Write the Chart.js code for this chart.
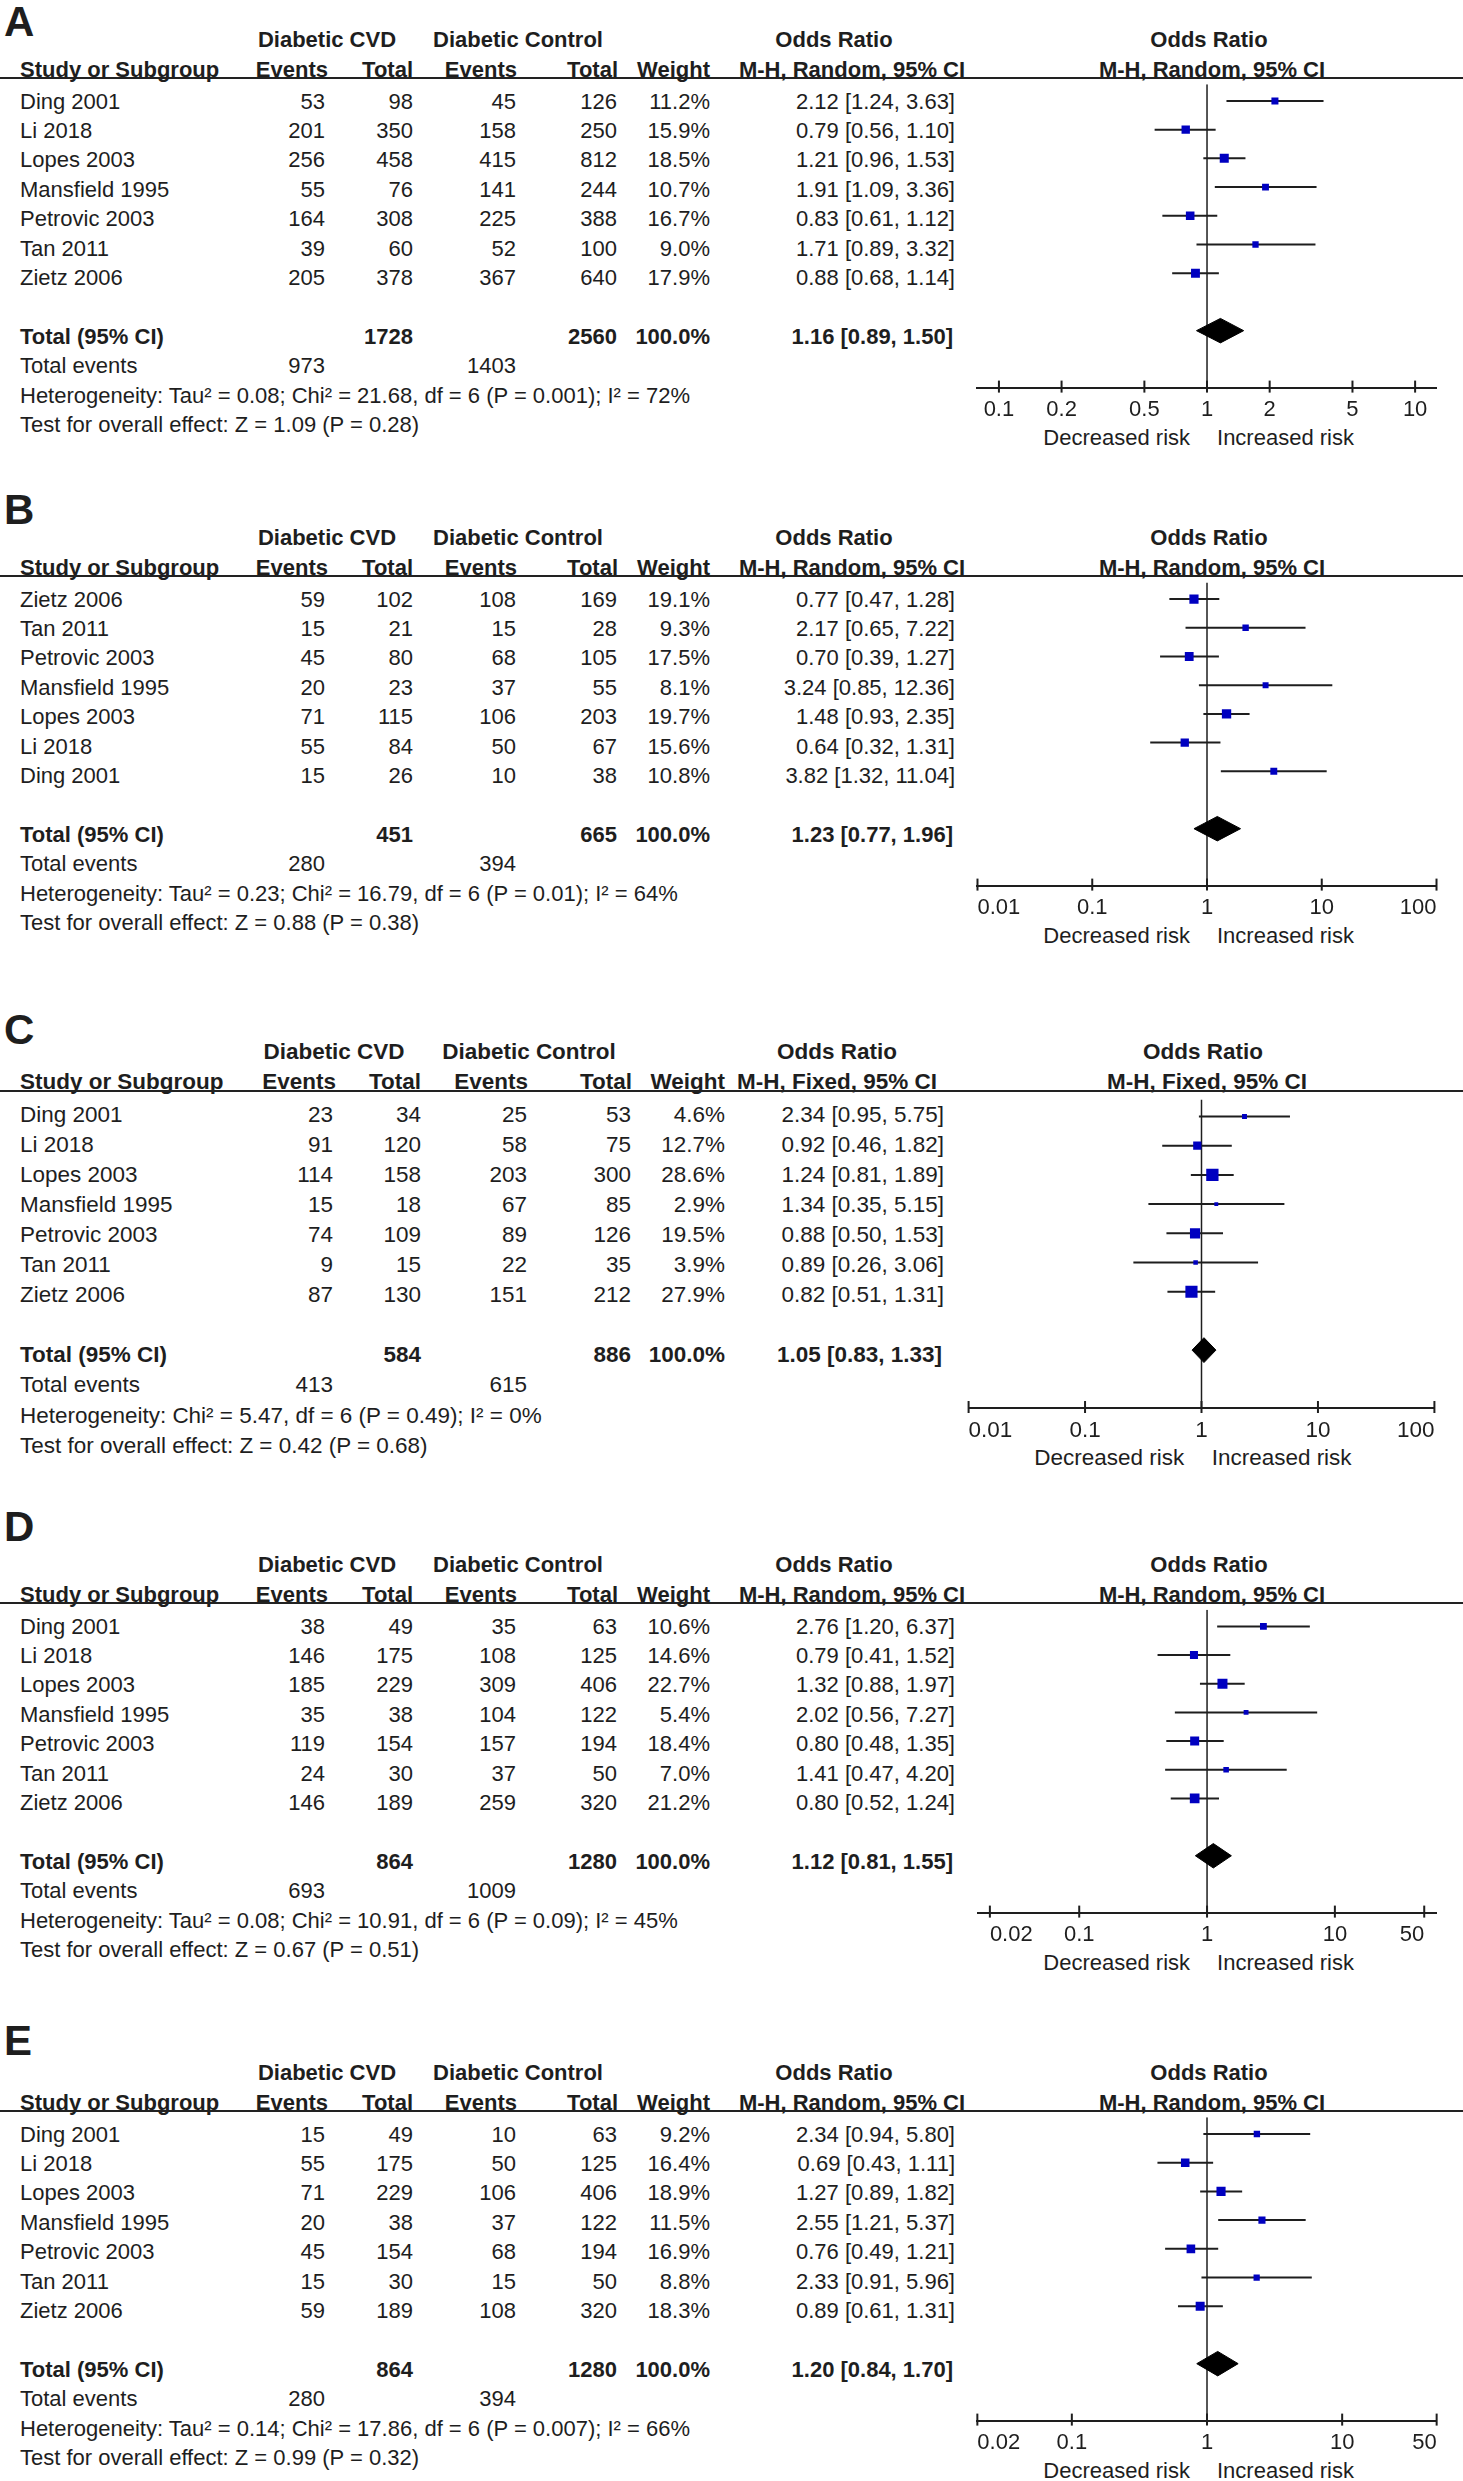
<!DOCTYPE html>
<html>
<head>
<meta charset="utf-8">
<script src="https://cdn.jsdelivr.net/npm/chart.js@4.4.0/dist/chart.umd.min.js"></script>
<style>
body { margin: 0; background: #fff; }
#page { position: relative; width: 1463px; height: 2481px; overflow: hidden; font-family: "Liberation Sans", Arial, sans-serif; color: #1e1e1e; }
.t { position: absolute; white-space: nowrap; line-height: 1; }
.b { font-weight: bold; }
.hline { position: absolute; left: 0; width: 1463px; height: 2px; background: #222; }
.plot { position: absolute; }
</style>
</head>
<body>
<div id="page"></div>
<script>
// ---- A ----
var studiesA = ['Ding 2001', 'Li 2018', 'Lopes 2003', 'Mansfield 1995', 'Petrovic 2003', 'Tan 2011', 'Zietz 2006'];
var cvdEventsA = [53, 201, 256, 55, 164, 39, 205];
var cvdTotalA = [98, 350, 458, 76, 308, 60, 378];
var ctlEventsA = [45, 158, 415, 141, 225, 52, 367];
var ctlTotalA = [126, 250, 812, 244, 388, 100, 640];
var weightA = [11.2, 15.9, 18.5, 10.7, 16.7, 9.0, 17.9];
var orA = [2.12, 0.79, 1.21, 1.91, 0.83, 1.71, 0.88];
var loA = [1.24, 0.56, 0.96, 1.09, 0.61, 0.89, 0.68];
var hiA = [3.63, 1.10, 1.53, 3.36, 1.12, 3.32, 1.14];
var pooledA = [1.16, 0.89, 1.50];
var sumTotalA = [1728, 2560];
var sumEventsA = [973, 1403];
var hetA = 'Heterogeneity: Tau² = 0.08; Chi² = 21.68, df = 6 (P = 0.001); I² = 72%';
var testA = 'Test for overall effect: Z = 1.09 (P = 0.28)';
var ticksA = [0.1, 0.2, 0.5, 1, 2, 5, 10];
var rangeA = [0.0787, 12.7];

// ---- B ----
var studiesB = ['Zietz 2006', 'Tan 2011', 'Petrovic 2003', 'Mansfield 1995', 'Lopes 2003', 'Li 2018', 'Ding 2001'];
var cvdEventsB = [59, 15, 45, 20, 71, 55, 15];
var cvdTotalB = [102, 21, 80, 23, 115, 84, 26];
var ctlEventsB = [108, 15, 68, 37, 106, 50, 10];
var ctlTotalB = [169, 28, 105, 55, 203, 67, 38];
var weightB = [19.1, 9.3, 17.5, 8.1, 19.7, 15.6, 10.8];
var orB = [0.77, 2.17, 0.70, 3.24, 1.48, 0.64, 3.82];
var loB = [0.47, 0.65, 0.39, 0.85, 0.93, 0.32, 1.32];
var hiB = [1.28, 7.22, 1.27, 12.36, 2.35, 1.31, 11.04];
var pooledB = [1.23, 0.77, 1.96];
var sumTotalB = [451, 665];
var sumEventsB = [280, 394];
var hetB = 'Heterogeneity: Tau² = 0.23; Chi² = 16.79, df = 6 (P = 0.01); I² = 64%';
var testB = 'Test for overall effect: Z = 0.88 (P = 0.38)';
var ticksB = [0.01, 0.1, 1, 10, 100];
var rangeB = [0.01, 100];

// ---- C ----
var studiesC = ['Ding 2001', 'Li 2018', 'Lopes 2003', 'Mansfield 1995', 'Petrovic 2003', 'Tan 2011', 'Zietz 2006'];
var cvdEventsC = [23, 91, 114, 15, 74, 9, 87];
var cvdTotalC = [34, 120, 158, 18, 109, 15, 130];
var ctlEventsC = [25, 58, 203, 67, 89, 22, 151];
var ctlTotalC = [53, 75, 300, 85, 126, 35, 212];
var weightC = [4.6, 12.7, 28.6, 2.9, 19.5, 3.9, 27.9];
var orC = [2.34, 0.92, 1.24, 1.34, 0.88, 0.89, 0.82];
var loC = [0.95, 0.46, 0.81, 0.35, 0.50, 0.26, 0.51];
var hiC = [5.75, 1.82, 1.89, 5.15, 1.53, 3.06, 1.31];
var pooledC = [1.05, 0.83, 1.33];
var sumTotalC = [584, 886];
var sumEventsC = [413, 615];
var hetC = 'Heterogeneity: Chi² = 5.47, df = 6 (P = 0.49); I² = 0%';
var testC = 'Test for overall effect: Z = 0.42 (P = 0.68)';
var ticksC = [0.01, 0.1, 1, 10, 100];
var rangeC = [0.01, 100];

// ---- D ----
var studiesD = ['Ding 2001', 'Li 2018', 'Lopes 2003', 'Mansfield 1995', 'Petrovic 2003', 'Tan 2011', 'Zietz 2006'];
var cvdEventsD = [38, 146, 185, 35, 119, 24, 146];
var cvdTotalD = [49, 175, 229, 38, 154, 30, 189];
var ctlEventsD = [35, 108, 309, 104, 157, 37, 259];
var ctlTotalD = [63, 125, 406, 122, 194, 50, 320];
var weightD = [10.6, 14.6, 22.7, 5.4, 18.4, 7.0, 21.2];
var orD = [2.76, 0.79, 1.32, 2.02, 0.80, 1.41, 0.80];
var loD = [1.20, 0.41, 0.88, 0.56, 0.48, 0.47, 0.52];
var hiD = [6.37, 1.52, 1.97, 7.27, 1.35, 4.20, 1.24];
var pooledD = [1.12, 0.81, 1.55];
var sumTotalD = [864, 1280];
var sumEventsD = [693, 1009];
var hetD = 'Heterogeneity: Tau² = 0.08; Chi² = 10.91, df = 6 (P = 0.09); I² = 45%';
var testD = 'Test for overall effect: Z = 0.67 (P = 0.51)';
var ticksD = [0.02, 0.1, 1, 10, 50];
var rangeD = [0.0161, 62];

// ---- E ----
var studiesE = ['Ding 2001', 'Li 2018', 'Lopes 2003', 'Mansfield 1995', 'Petrovic 2003', 'Tan 2011', 'Zietz 2006'];
var cvdEventsE = [15, 55, 71, 20, 45, 15, 59];
var cvdTotalE = [49, 175, 229, 38, 154, 30, 189];
var ctlEventsE = [10, 50, 106, 37, 68, 15, 108];
var ctlTotalE = [63, 125, 406, 122, 194, 50, 320];
var weightE = [9.2, 16.4, 18.9, 11.5, 16.9, 8.8, 18.3];
var orE = [2.34, 0.69, 1.27, 2.55, 0.76, 2.33, 0.89];
var loE = [0.94, 0.43, 0.89, 1.21, 0.49, 0.91, 0.61];
var hiE = [5.80, 1.11, 1.82, 5.37, 1.21, 5.96, 1.31];
var pooledE = [1.20, 0.84, 1.70];
var sumTotalE = [864, 1280];
var sumEventsE = [280, 394];
var hetE = 'Heterogeneity: Tau² = 0.14; Chi² = 17.86, df = 6 (P = 0.007); I² = 66%';
var testE = 'Test for overall effect: Z = 0.99 (P = 0.32)';
var ticksE = [0.02, 0.1, 1, 10, 50];
var rangeE = [0.02, 50];

var FONT = '"Liberation Sans", Arial, sans-serif';
var INK = '#1e1e1e';
Chart.defaults.font.family = FONT;
Chart.defaults.color = INK;

// column layout (px)
var colsStd = { study: 20, ev1: 325, tot1: 413, ev2: 516, tot2: 617, wt: 710, grp1: 327, grp2: 518,
    orHead: 834, orSub: 852, orRight: 955, plotHead: 1209, plotSub: 1212, axisL: 974, axisR: 1440 };
var colsC = { study: 20, ev1: 333, tot1: 421, ev2: 527, tot2: 631, wt: 725, grp1: 334, grp2: 529,
    orHead: 837, orSub: 837, orRight: 944, plotHead: 1203, plotSub: 1207, axisL: 963, axisR: 1440 };

var page = document.getElementById('page');

function txt(str, x, y, align, bold, size) {
    var d = document.createElement('div');
    d.className = 't' + (bold ? ' b' : '');
    d.textContent = str;
    d.style.fontSize = size + 'px';
    d.style.left = x + 'px';
    d.style.top = (y - 0.4885 * size) + 'px';
    if (align === 'right') d.style.transform = 'translateX(-100%)';
    if (align === 'center') d.style.transform = 'translateX(-50%)';
    page.appendChild(d);
    return d;
}

function ciText(o, l, h) {
    return o.toFixed(2) + ' [' + l.toFixed(2) + ', ' + h.toFixed(2) + ']';
}

// tick marks that cross the axis line
var crossTicks = {
    id: 'crossTicks',
    afterDraw: function (chart) {
        var sc = chart.scales.x, ctx = chart.ctx, y = chart.chartArea.bottom;
        ctx.save();
        ctx.strokeStyle = INK;
        ctx.lineWidth = 2;
        sc.ticks.forEach(function (t) {
            var px = sc.getPixelForValue(t.value);
            ctx.beginPath();
            ctx.moveTo(px, y - 7);
            ctx.lineTo(px, y + 5);
            ctx.stroke();
        });
        ctx.restore();
    }
};

function drawPanel(p) {
    var s = p.scale, L = p.lineY, c = p.cols, fs = 22 * s;
    var X = L + 310 * s;
    var rowY = function (i) { return L + s * (23.5 + 29.35 * i); };
    var n = p.studies.length;

    txt(p.letter, 4, p.letterTop + 15, 'left', true, 42);

    // headers
    txt('Diabetic CVD', c.grp1, L - 38 * s, 'center', true, fs);
    txt('Diabetic Control', c.grp2, L - 38 * s, 'center', true, fs);
    txt('Odds Ratio', c.orHead, L - 38 * s, 'center', true, fs);
    txt('Odds Ratio', c.plotHead, L - 38 * s, 'center', true, fs);
    var h2 = L - 8.5 * s;
    txt('Study or Subgroup', c.study, h2, 'left', true, fs);
    txt('Events', c.ev1 + 3, h2, 'right', true, fs);
    txt('Total', c.tot1, h2, 'right', true, fs);
    txt('Events', c.ev2 + 1, h2, 'right', true, fs);
    txt('Total', c.tot2 + 1, h2, 'right', true, fs);
    txt('Weight', c.wt, h2, 'right', true, fs);
    txt('M-H, ' + p.model + ', 95% CI', c.orSub, h2, 'center', true, fs);
    txt('M-H, ' + p.model + ', 95% CI', c.plotSub, h2, 'center', true, fs);
    var hl = document.createElement('div');
    hl.className = 'hline';
    hl.style.top = (L - 1) + 'px';
    page.appendChild(hl);

    // study rows
    for (var i = 0; i < n; i++) {
        var y = rowY(i);
        txt(p.studies[i], c.study, y, 'left', false, fs);
        txt(String(p.cvdEvents[i]), c.ev1, y, 'right', false, fs);
        txt(String(p.cvdTotal[i]), c.tot1, y, 'right', false, fs);
        txt(String(p.ctlEvents[i]), c.ev2, y, 'right', false, fs);
        txt(String(p.ctlTotal[i]), c.tot2, y, 'right', false, fs);
        txt(p.weight[i].toFixed(1) + '%', c.wt, y, 'right', false, fs);
        txt(ciText(p.or[i], p.lo[i], p.hi[i]), c.orRight, y, 'right', false, fs);
    }

    // totals
    var ty = rowY(n + 1);
    txt('Total (95% CI)', c.study, ty, 'left', true, fs);
    txt(String(p.sumTotal[0]), c.tot1, ty, 'right', true, fs);
    txt(String(p.sumTotal[1]), c.tot2, ty, 'right', true, fs);
    txt('100.0%', c.wt, ty, 'right', true, fs);
    txt(ciText(p.pooled[0], p.pooled[1], p.pooled[2]), c.orRight - 2, ty, 'right', true, fs);
    txt('Total events', c.study, L + 288 * s, 'left', false, fs);
    txt(String(p.sumEvents[0]), c.ev1, L + 288 * s, 'right', false, fs);
    txt(String(p.sumEvents[1]), c.ev2, L + 288 * s, 'right', false, fs);
    txt(p.het, c.study, L + 318 * s, 'left', false, fs);
    txt(p.test, c.study, L + 347 * s, 'left', false, fs);

    // forest plot
    var yTop = -17 / 29.35, yBottom = 293 / 29.35;
    var pad = 3;
    var wrap = document.createElement('div');
    wrap.className = 'plot';
    wrap.style.left = (c.axisL - pad) + 'px';
    wrap.style.top = L + 'px';
    var cv = document.createElement('canvas');
    cv.width = c.axisR - c.axisL + 2 * pad;
    cv.height = Math.round((X - L) + 9 + 1.2 * fs);
    wrap.appendChild(cv);
    page.appendChild(wrap);

    var datasets = [];
    datasets.push({
        data: p.or.map(function (v, i) { return { x: v, y: i }; }),
        showLine: false,
        pointStyle: 'rect',
        pointRadius: function (ctx) { return p.boxK * Math.sqrt(p.weight[ctx.dataIndex]) / Math.SQRT2; },
        pointBackgroundColor: '#0000c0',
        pointBorderColor: '#0000c0',
        pointBorderWidth: 0,
        order: 0
    });
    for (var j = 0; j < n; j++) {
        datasets.push({
            data: [{ x: p.lo[j], y: j }, { x: p.hi[j], y: j }],
            borderColor: INK, borderWidth: 2, pointRadius: 0, order: 1
        });
    }
    var dh = 0.426, k = n + 1;
    datasets.push({
        data: [{ x: p.pooled[1], y: k }, { x: p.pooled[0], y: k - dh }, { x: p.pooled[2], y: k },
            { x: p.pooled[0], y: k + dh }, { x: p.pooled[1], y: k }],
        borderColor: '#000', backgroundColor: '#000', borderWidth: 1, pointRadius: 0,
        fill: 'shape', tension: 0, order: 1
    });
    datasets.push({
        data: [{ x: 1, y: yTop }, { x: 1, y: yBottom }],
        borderColor: INK, borderWidth: 1.5, pointRadius: 0, order: 2
    });

    var chart = new Chart(cv.getContext('2d'), {
        type: 'line',
        data: { datasets: datasets },
        options: {
            responsive: false,
            animation: false,
            devicePixelRatio: 1,
            layout: { padding: { left: pad, right: pad, top: 0, bottom: 0 } },
            plugins: { legend: { display: false }, tooltip: { enabled: false } },
            scales: {
                x: {
                    type: 'logarithmic',
                    min: p.range[0],
                    max: p.range[1],
                    afterBuildTicks: function (sc) {
                        sc.ticks = p.ticks.map(function (v) { return { value: v }; });
                    },
                    ticks: {
                        align: p.align, padding: 0, autoSkip: false, maxRotation: 0,
                        color: INK, font: { size: fs },
                        callback: function (v) { return String(v); }
                    },
                    grid: { display: true, drawOnChartArea: false, drawTicks: true, tickLength: 9, tickColor: 'rgba(0,0,0,0)' },
                    border: { display: true, color: INK, width: 2 }
                },
                y: { type: 'linear', display: false, reverse: true, min: yTop, max: yBottom }
            }
        },
        plugins: [crossTicks]
    });

    var x1 = c.axisL - pad + chart.scales.x.getPixelForValue(1);
    txt('Decreased risk', x1 - 17 * s, X + 49.5 * s, 'right', false, fs);
    txt('Increased risk', x1 + 10 * s, X + 49.5 * s, 'left', false, fs);
}

var panels = [
    { letter: 'A', letterTop: 7, lineY: 78, scale: 1, cols: colsStd, model: 'Random', align: 'center', boxK: 2.1,
      studies: studiesA, cvdEvents: cvdEventsA, cvdTotal: cvdTotalA, ctlEvents: ctlEventsA, ctlTotal: ctlTotalA,
      weight: weightA, or: orA, lo: loA, hi: hiA, pooled: pooledA, sumTotal: sumTotalA, sumEvents: sumEventsA,
      het: hetA, test: testA, ticks: ticksA, range: rangeA },
    { letter: 'B', letterTop: 495, lineY: 576, scale: 1, cols: colsStd, model: 'Random', align: 'inner', boxK: 2.1,
      studies: studiesB, cvdEvents: cvdEventsB, cvdTotal: cvdTotalB, ctlEvents: ctlEventsB, ctlTotal: ctlTotalB,
      weight: weightB, or: orB, lo: loB, hi: hiB, pooled: pooledB, sumTotal: sumTotalB, sumEvents: sumEventsB,
      het: hetB, test: testB, ticks: ticksB, range: rangeB },
    { letter: 'C', letterTop: 1015, lineY: 1091, scale: 1.022, cols: colsC, model: 'Fixed', align: 'inner', boxK: 2.3,
      studies: studiesC, cvdEvents: cvdEventsC, cvdTotal: cvdTotalC, ctlEvents: ctlEventsC, ctlTotal: ctlTotalC,
      weight: weightC, or: orC, lo: loC, hi: hiC, pooled: pooledC, sumTotal: sumTotalC, sumEvents: sumEventsC,
      het: hetC, test: testC, ticks: ticksC, range: rangeC },
    { letter: 'D', letterTop: 1512, lineY: 1603, scale: 1, cols: colsStd, model: 'Random', align: 'inner', boxK: 2.1,
      studies: studiesD, cvdEvents: cvdEventsD, cvdTotal: cvdTotalD, ctlEvents: ctlEventsD, ctlTotal: ctlTotalD,
      weight: weightD, or: orD, lo: loD, hi: hiD, pooled: pooledD, sumTotal: sumTotalD, sumEvents: sumEventsD,
      het: hetD, test: testD, ticks: ticksD, range: rangeD },
    { letter: 'E', letterTop: 2026, lineY: 2111, scale: 1, cols: colsStd, model: 'Random', align: 'inner', boxK: 2.1,
      studies: studiesE, cvdEvents: cvdEventsE, cvdTotal: cvdTotalE, ctlEvents: ctlEventsE, ctlTotal: ctlTotalE,
      weight: weightE, or: orE, lo: loE, hi: hiE, pooled: pooledE, sumTotal: sumTotalE, sumEvents: sumEventsE,
      het: hetE, test: testE, ticks: ticksE, range: rangeE }
];

panels.forEach(drawPanel);
</script>
</body>
</html>
